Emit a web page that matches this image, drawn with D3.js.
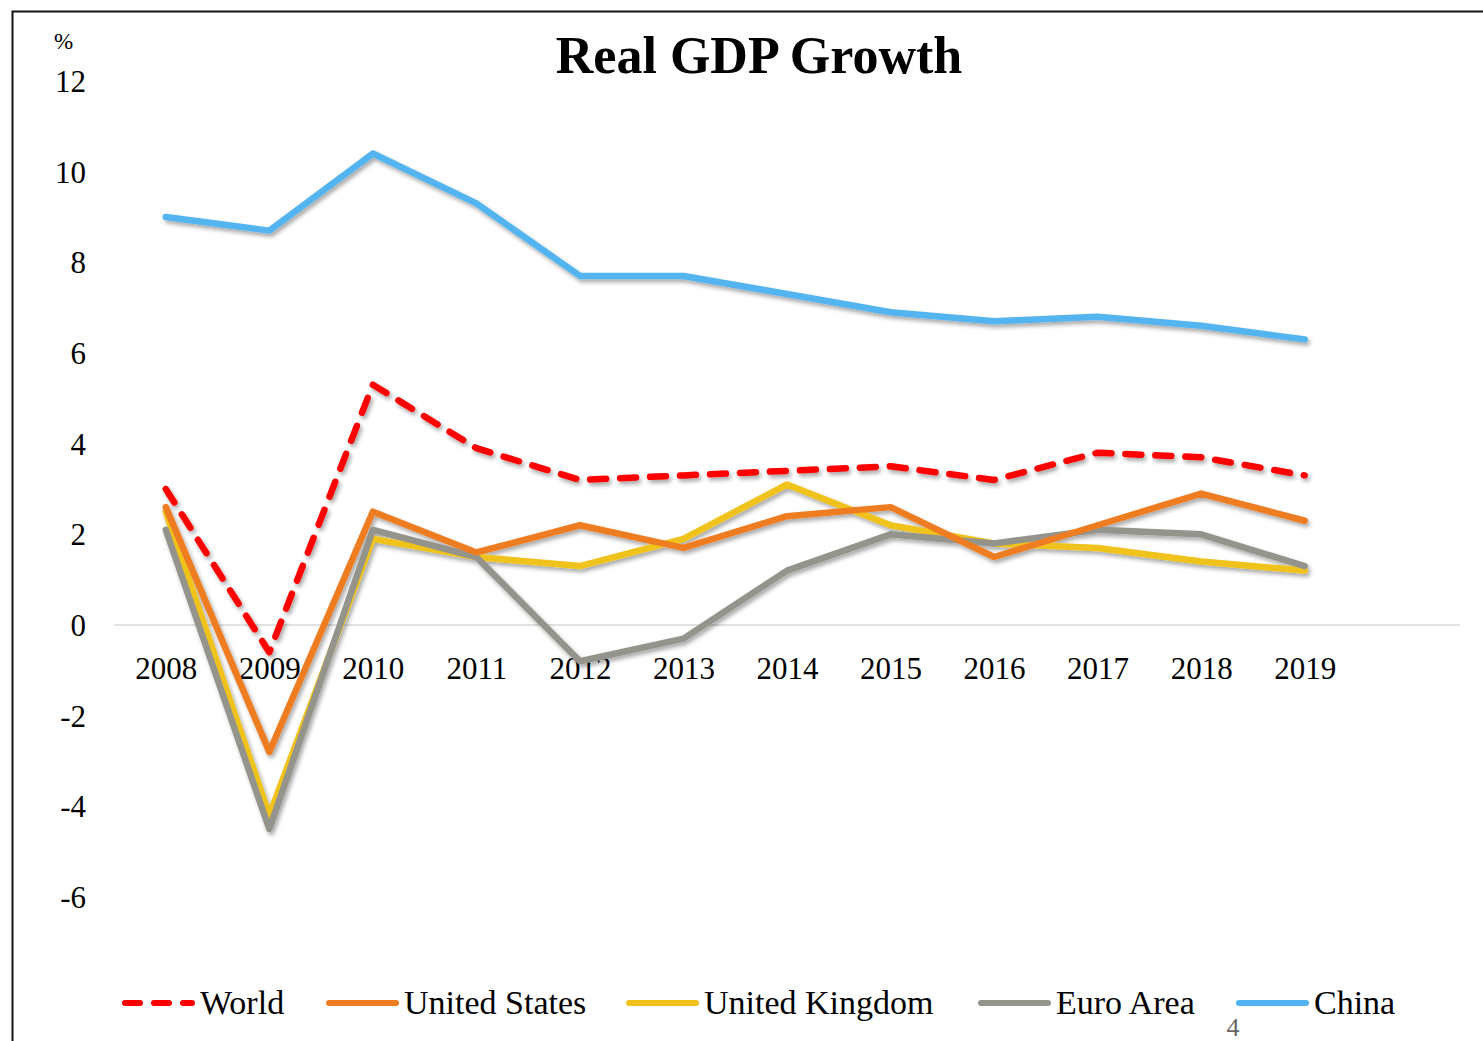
<!DOCTYPE html>
<html>
<head>
<meta charset="utf-8">
<script src="https://cdn.jsdelivr.net/npm/d3@7"></script>
<style>
  body { margin: 0; background: #fff; }
  svg { display: block; }
  svg text { font-family: "Palatino Linotype", "Book Antiqua", Palatino, "Liberation Serif", serif; }
</style>
</head>
<body>
<svg id="main"></svg>
<script>
var W = 1483, H = 1041;

// data
var years = [2008, 2009, 2010, 2011, 2012, 2013, 2014, 2015, 2016, 2017, 2018, 2019];
var world = [3.0, -0.6, 5.3, 3.9, 3.2, 3.3, 3.4, 3.5, 3.2, 3.8, 3.7, 3.3];
var unitedStates = [2.6, -2.8, 2.5, 1.6, 2.2, 1.7, 2.4, 2.6, 1.5, 2.2, 2.9, 2.3];
var unitedKingdom = [2.5, -4.2, 1.9, 1.5, 1.3, 1.9, 3.1, 2.2, 1.8, 1.7, 1.4, 1.2];
var euroArea = [2.1, -4.5, 2.1, 1.5, -0.8, -0.3, 1.2, 2.0, 1.8, 2.1, 2.0, 1.3];
var china = [9.0, 8.7, 10.4, 9.3, 7.7, 7.7, 7.3, 6.9, 6.7, 6.8, 6.6, 6.3];
var yTicks = [-6, -4, -2, 0, 2, 4, 6, 8, 10, 12];

var series = [
  {name: "World", values: world, color: "#ff0000", dash: true},
  {name: "United States", values: unitedStates, color: "#ee7d22"},
  {name: "United Kingdom", values: unitedKingdom, color: "#f0c21c"},
  {name: "Euro Area", values: euroArea, color: "#94948c"},
  {name: "China", values: china, color: "#52b4f0"}
];
// draw order: grey and yellow under, orange, red, blue
var drawOrder = ["United Kingdom", "Euro Area", "United States", "World", "China"];

var svg = d3.select("svg#main").attr("width", W).attr("height", H);

var defs = svg.append("defs");
var f = defs.append("filter").attr("id", "shadow")
  .attr("x", "-10%").attr("y", "-10%").attr("width", "120%").attr("height", "130%");
f.append("feDropShadow").attr("dx", 2).attr("dy", 3).attr("stdDeviation", 2)
  .attr("flood-color", "#000").attr("flood-opacity", 0.35);

// frame
svg.append("path")
  .attr("d", "M12.5," + H + "V11.5H" + W)
  .attr("fill", "none").attr("stroke", "#111").attr("stroke-width", 2);

// scales: 13 category slots, the last one empty
var x = d3.scaleLinear().domain([2007.5, 2020.5]).range([114, 1460]);
var y = d3.scaleLinear().domain([-6, 12]).range([897, 81]);

// zero line
svg.append("line")
  .attr("x1", x(2007.5)).attr("x2", x(2020.5))
  .attr("y1", y(0)).attr("y2", y(0))
  .attr("stroke", "#d9d9d9").attr("stroke-width", 1.5);

// y axis labels (plain hyphen for negatives)
var yAxis = d3.axisLeft(y).tickValues(yTicks).tickSize(0).tickPadding(0)
  .tickFormat(function (d) { return String(d); });
var gy = svg.append("g").attr("transform", "translate(86,0)").call(yAxis)
  .attr("font-family", null).attr("font-size", null);
gy.select(".domain").remove();
gy.selectAll("text").attr("font-size", 31).attr("fill", "#000").attr("dy", "0.34em");

svg.append("text").attr("x", 54).attr("y", 49).attr("font-size", 23).text("%");

// x axis labels
var xAxis = d3.axisBottom(x).tickValues(years).tickSize(0).tickPadding(0)
  .tickFormat(function (d) { return String(d); });
var gx = svg.append("g").attr("transform", "translate(0,679)").call(xAxis)
  .attr("font-family", null).attr("font-size", null);
gx.select(".domain").remove();
gx.selectAll("text").attr("font-size", 31).attr("fill", "#000").attr("dy", 0);

// title
svg.append("text").attr("x", 759).attr("y", 73).attr("text-anchor", "middle")
  .attr("font-size", 52).attr("font-weight", "bold").text("Real GDP Growth");

// lines
var line = d3.line()
  .x(function (d, i) { return x(years[i]); })
  .y(function (d) { return y(d); });

var byName = {};
series.forEach(function (s) { byName[s.name] = s; });

svg.append("g").attr("filter", "url(#shadow)")
  .selectAll("path")
  .data(drawOrder.map(function (n) { return byName[n]; }))
  .enter().append("path")
  .attr("d", function (d) { return line(d.values); })
  .attr("fill", "none")
  .attr("stroke", function (d) { return d.color; })
  .attr("stroke-width", 6.5)
  .attr("stroke-linejoin", "round")
  .attr("stroke-linecap", "round")
  .attr("stroke-dasharray", function (d) { return d.dash ? "16,14" : null; });

// legend
var legendX = [122, 326, 626, 978, 1236];
var legend = svg.append("g").attr("transform", "translate(0,1003)");
var item = legend.selectAll("g").data(series).enter().append("g")
  .attr("transform", function (d, i) { return "translate(" + legendX[i] + ",0)"; });
item.append("line")
  .attr("x1", 3).attr("x2", 70).attr("y1", 0).attr("y2", 0)
  .attr("stroke", function (d) { return d.color; })
  .attr("stroke-width", 6)
  .attr("stroke-linecap", "round")
  .attr("stroke-dasharray", function (d) { return d.dash ? "15,14" : null; });
item.append("text").attr("x", 78).attr("y", 11).attr("font-size", 34)
  .text(function (d) { return d.name; });

// page number
svg.append("text").attr("x", 1233).attr("y", 1036).attr("text-anchor", "middle")
  .attr("font-size", 26).attr("fill", "#666").text("4");
</script>
</body>
</html>
